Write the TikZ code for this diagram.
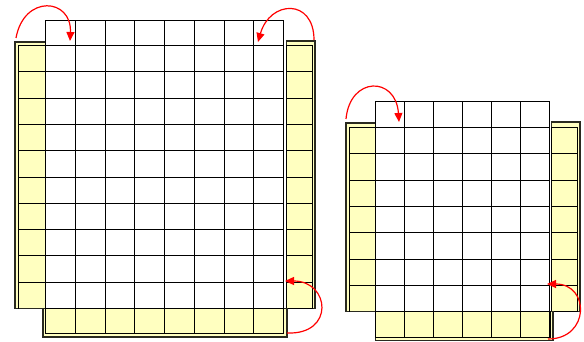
\documentclass[tikz,border=0pt]{standalone}
\usetikzlibrary{arrows.meta}
\definecolor{cellyellow}{HTML}{FFFFC0}
\definecolor{edgedark}{HTML}{2A2A20}
\begin{document}
\begin{tikzpicture}[x=1pt,y=-1pt,
  gridline/.style={black,line width=1.6pt},
  stripouter/.style={fill=cellyellow,draw=edgedark,line width=1.8pt},
  stripline/.style={black,line width=1.6pt},
  movearrow/.style={red,line width=1.2pt,-{Triangle[length=9pt,width=8pt]}}]
\useasboundingbox (0,0) rectangle (584,342);
% ---------------- left figure ----------------
% left strip
\draw[stripouter] (15,42) rectangle (45.5,308.5);
\draw[stripline] (18.5,45.5) -- (18.5,308.5);
\foreach \j in {0,...,9} {
  \pgfmathsetmacro{\yy}{round(45+26.3*\j)+0.5}
  \draw[stripline] (18.5,\yy) -- (45.5,\yy);}
% right strip
\draw[stripouter] (286.5,41) rectangle (315,308.5);
\draw[stripline] (286.5,45.5) rectangle (312.5,308.5);
\foreach \j in {0,...,9} {
  \pgfmathsetmacro{\yy}{round(45+26.3*\j)+0.5}
  \draw[stripline] (286.5,\yy) -- (312.5,\yy);}
% bottom strip
\draw[stripouter] (43,308.5) rectangle (287,337);
\draw[stripline] (45.5,308.5) rectangle (283.5,333.5);
\foreach \i in {0,...,8} {
  \pgfmathsetmacro{\xx}{round(45+29.75*\i)+0.5}
  \draw[stripline] (\xx,308.5) -- (\xx,333.5);}
% grid
\foreach \i in {0,...,8} {
  \pgfmathsetmacro{\xx}{round(45+29.75*\i)+0.5}
  \draw[gridline] (\xx,20.5) -- (\xx,308.5);}
\draw[gridline] (45.5,20.5) -- (283.5,20.5);
\foreach \j in {0,...,10} {
  \pgfmathsetmacro{\yy}{round(45+26.3*\j)+0.5}
  \draw[gridline] (45.5,\yy) -- (283.5,\yy);}
% arrows
\coordinate (a1s) at (16,38);
\coordinate (a1e) at (70,41);
\coordinate (a2s) at (314,40);
\coordinate (a2e) at (258,42);
\coordinate (a3s) at (287,333);
\coordinate (a3e) at (285,281);
\draw[movearrow] (a1s) .. controls (24,-6) and (72,-2) .. (a1e);
\draw[movearrow] (a2s) .. controls (314,-2) and (270,0) .. (a2e);
\draw[movearrow] (a3s) .. controls (335,335) and (330,281) .. (a3e);
% ---------------- right figure ----------------
% left strip
\draw[stripouter] (346,123) rectangle (375.5,311.5);
\draw[stripline] (349.5,127.5) -- (349.5,311.5);
\foreach \j in {0,...,6} {
  \pgfmathsetmacro{\yy}{round(127+26.3*\j)+0.5}
  \draw[stripline] (349.5,\yy) -- (375.5,\yy);}
% right strip
\draw[stripouter] (551.5,122) rectangle (580,311.5);
\draw[stripline] (551.5,127.5) rectangle (577.5,311.5);
\foreach \j in {0,...,6} {
  \pgfmathsetmacro{\yy}{round(127+26.3*\j)+0.5}
  \draw[stripline] (551.5,\yy) -- (577.5,\yy);}
% bottom strip
\draw[stripouter] (375.5,311.5) rectangle (553,340.5);
\draw[stripline] (375.5,311.5) rectangle (550.5,337.5);
\foreach \i in {0,...,6} {
  \pgfmathsetmacro{\xx}{round(375+29*\i)+0.5}
  \draw[stripline] (\xx,311.5) -- (\xx,337.5);}
% grid
\foreach \i in {0,...,6} {
  \pgfmathsetmacro{\xx}{round(375+29*\i)+0.5}
  \draw[gridline] (\xx,101.5) -- (\xx,311.5);}
\draw[gridline] (375.5,101.5) -- (549.5,101.5);
\foreach \j in {0,...,7} {
  \pgfmathsetmacro{\yy}{round(127+26.3*\j)+0.5}
  \draw[gridline] (375.5,\yy) -- (549.5,\yy);}
% arrows
\coordinate (b1s) at (346,119);
\coordinate (b1e) at (399,122);
\coordinate (b2s) at (548,339);
\coordinate (b2e) at (547,284);
\draw[movearrow] (b1s) .. controls (350,76) and (396,76) .. (b1e);
\draw[movearrow] (b2s) .. controls (590,339) and (590,284) .. (b2e);
\end{tikzpicture}
\end{document}
